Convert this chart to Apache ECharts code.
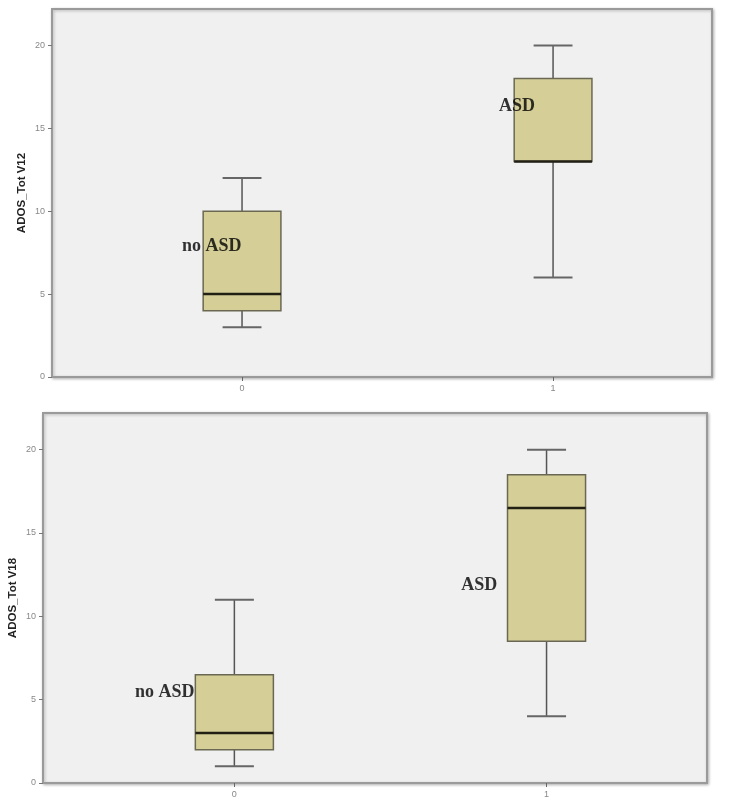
<!DOCTYPE html>
<html>
<head>
<meta charset="utf-8">
<script src="https://cdn.jsdelivr.net/npm/echarts@6/dist/echarts.min.js"></script>
<style>
html,body{margin:0;padding:0;background:#fff;}
#chart{width:754px;height:807px;}
</style>
</head>
<body>
<div id="chart"></div>
<script>
// ---- data ----
const categories = [0, 1];
const tickLabels = ['0', '1'];
const yTicks = [0, 5, 10, 15, 20];

const v12Min    = [3, 6];
const v12Q1     = [4, 13];
const v12Median = [5, 13];
const v12Q3     = [10, 18];
const v12Max    = [12, 20];

const v18Min    = [1, 4];
const v18Q1     = [2, 8.5];
const v18Median = [3, 16.5];
const v18Q3     = [6.5, 18.5];
const v18Max    = [11, 20];

const groupNames = ['no ASD', 'ASD'];
const v12LabelX = [-0.193, 0.826];
const v12LabelY = [7.88, 16.3];
const v18LabelX = [-0.318, 0.727];
const v18LabelY = [5.43, 11.88];

const yNames = ['ADOS_Tot V12', 'ADOS_Tot V18'];

// ---- build ----
function rows(mn, q1, md, q3, mx) {
  return categories.map((c, i) => [c, mn[i], q1[i], md[i], q3[i], mx[i]]);
}
function labelRows(xs, ys) {
  return groupNames.map((n, i) => ({ name: n, value: [xs[i], ys[i]] }));
}

function renderBox(params, api) {
  const x = api.value(0);
  const lo = api.coord([x, api.value(1)]);
  const q1 = api.coord([x, api.value(2)]);
  const md = api.coord([x, api.value(3)]);
  const q3 = api.coord([x, api.value(4)]);
  const hi = api.coord([x, api.value(5)]);
  const bw = api.size([0.25, 0])[0];
  const cw = api.size([0.125, 0])[0];
  const cx = lo[0];
  const whisk = { stroke: '#555', lineWidth: 1.5 };
  const cap = { stroke: '#666', lineWidth: 2 };
  return {
    type: 'group',
    children: [
      { type: 'line', shape: { x1: cx, y1: hi[1], x2: cx, y2: q3[1] }, style: whisk },
      { type: 'line', shape: { x1: cx, y1: q1[1], x2: cx, y2: lo[1] }, style: whisk },
      { type: 'line', shape: { x1: cx - cw / 2, y1: hi[1], x2: cx + cw / 2, y2: hi[1] }, style: cap },
      { type: 'line', shape: { x1: cx - cw / 2, y1: lo[1], x2: cx + cw / 2, y2: lo[1] }, style: cap },
      { type: 'rect', shape: { x: cx - bw / 2, y: q3[1], width: bw, height: q1[1] - q3[1] },
        style: { fill: '#d5cf97', stroke: '#6a6853', lineWidth: 1.5 } },
      { type: 'line', shape: { x1: cx - bw / 2, y1: md[1], x2: cx + bw / 2, y2: md[1] },
        style: { stroke: '#222015', lineWidth: 2.5 } }
    ]
  };
}

const gridStyle = {
  show: true, backgroundColor: '#f0f0f0', borderColor: '#9a9a9a', borderWidth: 2,
  shadowColor: 'rgba(0,0,0,0.25)', shadowBlur: 3, shadowOffsetX: 1, shadowOffsetY: 1,
  containLabel: false, outerBoundsMode: 'none'
};

function xAxisCfg(idx, mn, mx) {
  return {
    type: 'value', gridIndex: idx, min: mn, max: mx, position: 'bottom',
    splitLine: { show: false },
    axisLine: { show: false, onZero: false },
    axisTick: { show: true, customValues: categories, length: 4, lineStyle: { color: '#666', width: 1 } },
    axisLabel: { show: true, customValues: categories, margin: 7, fontSize: 9, color: '#888',
      fontFamily: 'Liberation Sans', formatter: v => tickLabels[categories.indexOf(v)] ?? '' }
  };
}
function yAxisCfg(idx, name) {
  return {
    type: 'value', gridIndex: idx, min: 0, max: 22.2, position: 'left',
    name: name, nameLocation: 'middle', nameGap: 24, nameRotate: 90, nameMoveOverlap: false,
    nameTextStyle: { fontFamily: 'Liberation Sans', fontWeight: 'bold', fontSize: 11.5, color: '#222' },
    splitLine: { show: false },
    axisLine: { show: false, onZero: false },
    axisTick: { show: true, customValues: yTicks, length: 4, lineStyle: { color: '#777', width: 1 } },
    axisLabel: { show: true, customValues: yTicks, margin: 7, fontSize: 9, color: '#888',
      fontFamily: 'Liberation Sans' }
  };
}

const labelSeries = (idx, data) => ({
  type: 'scatter', xAxisIndex: idx, yAxisIndex: idx, symbolSize: 0, data: data,
  silent: true, z: 10,
  label: { show: true, position: [0, 0], align: 'left', verticalAlign: 'middle',
    formatter: p => p.name, fontFamily: 'Liberation Serif', fontWeight: 'bold', fontSize: 18,
    color: '#000', textBorderWidth: 0 }
});

const chart = echarts.init(document.getElementById('chart'), null, { renderer: 'canvas' });
chart.setOption({
  backgroundColor: '#ffffff',
  animation: false,
  grid: [
    Object.assign({ left: 52, top: 9, width: 660, height: 368 }, gridStyle),
    Object.assign({ left: 43, top: 413, width: 664, height: 370 }, gridStyle)
  ],
  xAxis: [xAxisCfg(0, -0.611, 1.511), xAxisCfg(1, -0.613, 1.514)],
  yAxis: [yAxisCfg(0, yNames[0]), yAxisCfg(1, yNames[1])],
  series: [
    { type: 'custom', xAxisIndex: 0, yAxisIndex: 0, renderItem: renderBox,
      encode: { x: 0, y: [1, 2, 3, 4, 5] }, data: rows(v12Min, v12Q1, v12Median, v12Q3, v12Max) },
    { type: 'custom', xAxisIndex: 1, yAxisIndex: 1, renderItem: renderBox,
      encode: { x: 0, y: [1, 2, 3, 4, 5] }, data: rows(v18Min, v18Q1, v18Median, v18Q3, v18Max) },
    labelSeries(0, labelRows(v12LabelX, v12LabelY)),
    labelSeries(1, labelRows(v18LabelX, v18LabelY))
  ]
});
</script>
</body>
</html>
